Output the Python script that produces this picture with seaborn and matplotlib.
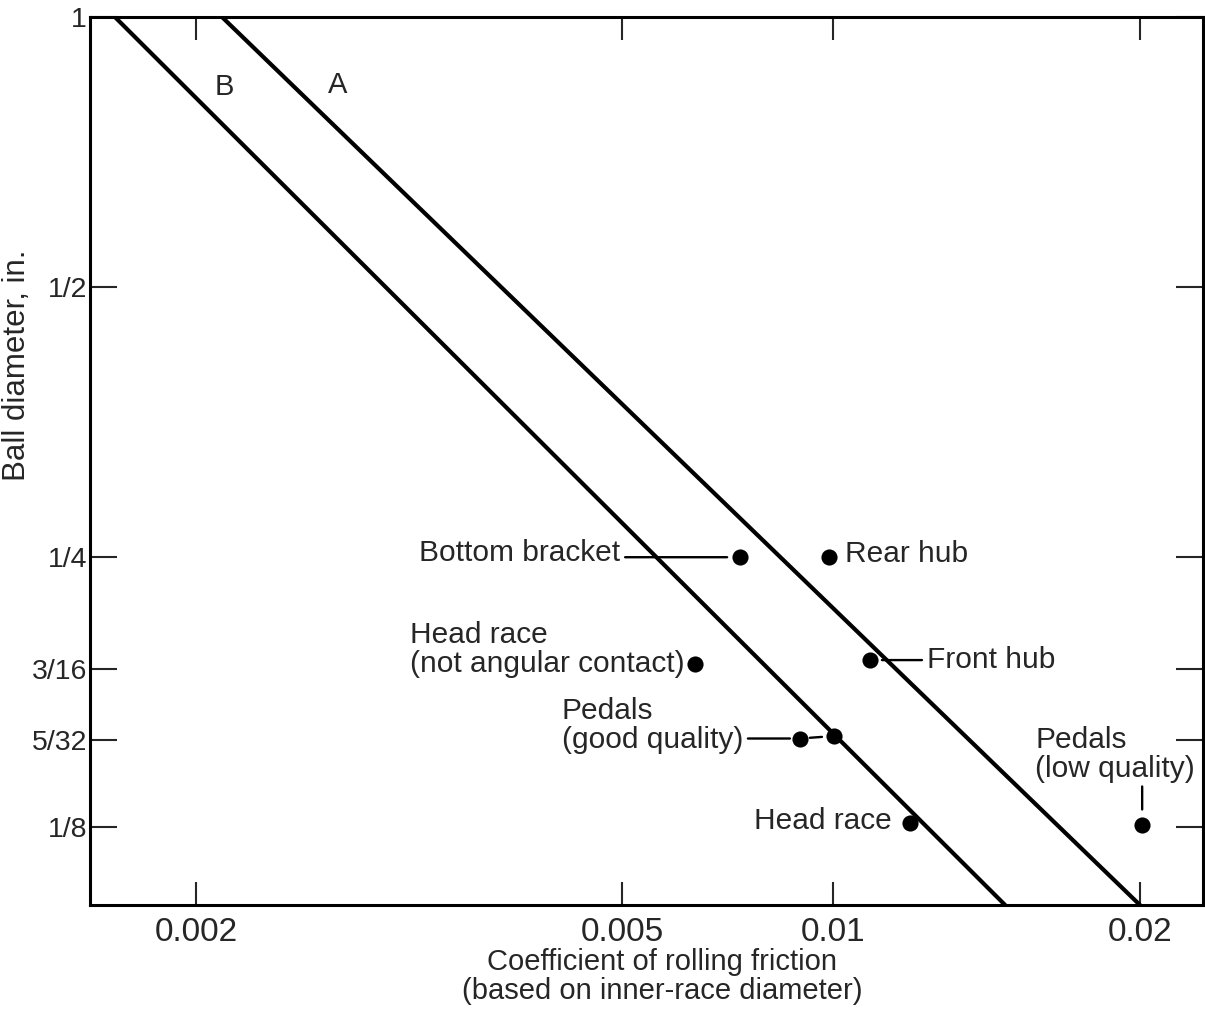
import numpy as np
import pandas as pd
import matplotlib
matplotlib.use("Agg")
import matplotlib.pyplot as plt
import seaborn as sns
from matplotlib.ticker import FixedLocator, FixedFormatter, NullLocator

# ---------------- data ----------------
point_names = ["Bottom bracket", "Rear hub", "Head race (not angular contact)",
               "Front hub", "Pedals (good quality) a", "Pedals (good quality) b",
               "Head race", "Pedals (low quality)"]
friction = [0.00737, 0.00987, 0.00636, 0.01087, 0.00897, 0.01002, 0.0119, 0.0201]
diameter = [0.25, 0.25, 0.190, 0.192, 0.157, 0.158, 0.1263, 0.1256]

line_A_friction = [0.002115, 0.0200]
line_A_diameter = [1.0, 0.1024]
line_B_friction = [0.00168, 0.01475]
line_B_diameter = [1.0, 0.1024]

x_ticks = [0.002, 0.005, 0.01, 0.02]
x_tick_labels = ["0.002", "0.005", "0.01", "0.02"]
y_ticks = [1.0, 0.5, 0.25, 0.1875, 0.15625, 0.125]
y_tick_labels = ["1", "1/2", "1/4", "3/16", "5/32", "1/8"]

# ---------------- style ----------------
sns.set_style("ticks")
plt.rcParams["font.family"] = ["Liberation Sans", "DejaVu Sans"]

def px(v):
    return v * 72.0 / 100.0

# The printed x axis is logarithmic but its tick spacing is uneven;
# map log10(x) piecewise-linearly through the printed tick positions.
knot_log = np.log10(x_ticks)
knot_pos = np.array([0.0952, 0.478, 0.6676, 0.9434])
s0 = (knot_pos[1] - knot_pos[0]) / (knot_log[1] - knot_log[0])
s1 = (knot_pos[-1] - knot_pos[-2]) / (knot_log[-1] - knot_log[-2])

def fwd(x):
    lx = np.log10(np.clip(np.asarray(x, dtype=float), 1e-12, None))
    y = np.interp(lx, knot_log, knot_pos)
    y = np.where(lx < knot_log[0], knot_pos[0] + (lx - knot_log[0]) * s0, y)
    y = np.where(lx > knot_log[-1], knot_pos[-1] + (lx - knot_log[-1]) * s1, y)
    return y

def inv(p):
    p = np.asarray(p, dtype=float)
    lx = np.interp(p, knot_pos, knot_log)
    lx = np.where(p < knot_pos[0], knot_log[0] + (p - knot_pos[0]) / s0, lx)
    lx = np.where(p > knot_pos[-1], knot_log[-1] + (p - knot_pos[-1]) / s1, lx)
    return 10.0 ** lx

fig = plt.figure(figsize=(12.05, 10.11), dpi=100)
ax = fig.add_axes([0.0747, 0.1048, 0.9236, 0.8784])
ax.set_xscale("function", functions=(fwd, inv))
ax.set_yscale("log", base=2)

lines_df = pd.DataFrame({
    "friction": line_A_friction + line_B_friction,
    "diameter": line_A_diameter + line_B_diameter,
    "curve": ["A"] * len(line_A_friction) + ["B"] * len(line_B_friction),
})
sns.lineplot(data=lines_df, x="friction", y="diameter", units="curve",
             estimator=None, sort=False, color="black", linewidth=3.0, ax=ax)

pts_df = pd.DataFrame({"name": point_names, "friction": friction, "diameter": diameter})
sns.scatterplot(data=pts_df, x="friction", y="diameter", color="black", s=135,
                linewidth=0, ax=ax, zorder=4)

ax.set_xlim(float(inv(0.0)), float(inv(1.0)))
ax.set_ylim(0.1024, 1.0)

ax.xaxis.set_major_locator(FixedLocator(x_ticks))
ax.xaxis.set_major_formatter(FixedFormatter(x_tick_labels))
ax.xaxis.set_minor_locator(NullLocator())
ax.yaxis.set_major_locator(FixedLocator(y_ticks))
ax.yaxis.set_major_formatter(FixedFormatter(y_tick_labels))
ax.yaxis.set_minor_locator(NullLocator())

ax.tick_params(axis="x", which="major", direction="in", top=True, bottom=True,
               length=px(23), width=1.5, pad=px(12), labelsize=24)
ax.tick_params(axis="y", which="major", direction="in", left=True, right=True,
               length=px(27), width=1.5, pad=px(3), labelsize=20.5)

for sp in ax.spines.values():
    sp.set_visible(True)
    sp.set_linewidth(2.2)
    sp.set_color("black")

ax.set_xlabel("Coefficient of rolling friction\n(based on inner-race diameter)",
              fontsize=21, linespacing=1.05)
ax.xaxis.set_label_coords(0.514, -0.048)
ax.set_ylabel("Ball diameter, in.", fontsize=22.5)
ax.yaxis.set_label_coords(-0.052, 0.608)

# curve labels
ax.text(0.1204, 0.921, "B", transform=ax.transAxes, fontsize=21,
        ha="center", va="center")
ax.text(0.2228, 0.9234, "A", transform=ax.transAxes, fontsize=21,
        ha="center", va="center")

FS = 21.5
pts = dict(zip(point_names, zip(friction, diameter)))

def label(name, text, dx, dy, ha, va="center"):
    ax.annotate(text, xy=pts[name], xytext=(px(dx), px(dy)),
                textcoords="offset points", ha=ha, va=va, fontsize=FS,
                multialignment="left", linespacing=1.05)

def leader(name, dx, dy, shrink_end):
    ax.annotate("", xy=pts[name], xytext=(px(dx), px(dy)),
                textcoords="offset points",
                arrowprops=dict(arrowstyle="-", color="black", lw=1.7,
                                shrinkA=0, shrinkB=px(shrink_end)))

label("Bottom bracket", "Bottom bracket", -120, 4, "right")
leader("Bottom bracket", -115, 0, 13)
label("Rear hub", "Rear hub", 16, 3, "left")
label("Head race (not angular contact)", "Head race\n(not angular contact)", -11, 15, "right")
label("Front hub", "Front hub", 57, 0, "left")
leader("Front hub", 52, 0, 12)
label("Pedals (good quality) a", "Pedals\n(good quality)", -57, 13, "right")
leader("Pedals (good quality) a", -52, 0, 10)
ax.annotate("", xy=pts["Pedals (good quality) a"], xytext=pts["Pedals (good quality) b"],
            textcoords="data",
            arrowprops=dict(arrowstyle="-", color="black", lw=1.7,
                            shrinkA=px(12), shrinkB=px(10)))
label("Head race", "Head race", -18, 2, "right")
label("Pedals (low quality)", "Pedals\n(low quality)", -27, 71, "center")
leader("Pedals (low quality)", 0, 39, 16)

fig.savefig("out.png", dpi=100, facecolor="white")
